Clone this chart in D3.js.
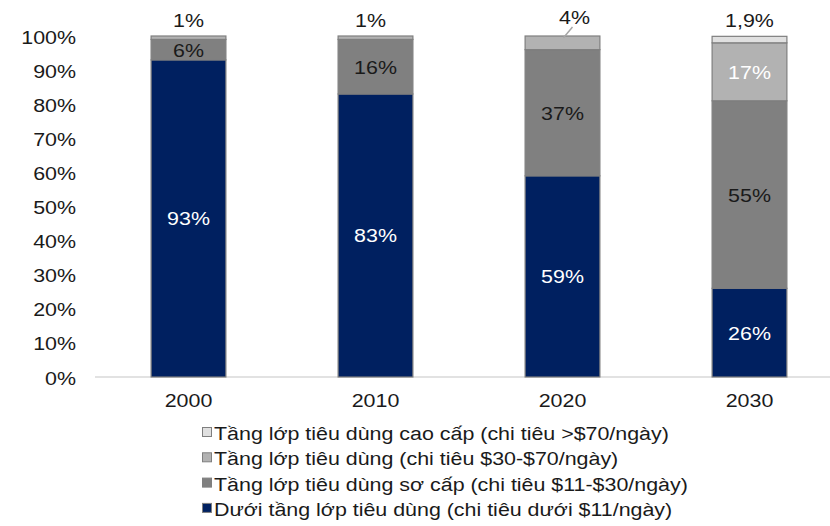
<!DOCTYPE html>
<html><head><meta charset="utf-8">
<script src="https://cdn.jsdelivr.net/npm/d3@7/dist/d3.min.js"></script>
<style>body{margin:0;background:#fff;} text{font-family:"Liberation Sans",Arial,sans-serif;}</style>
</head><body>
<svg id="c" width="830" height="526"></svg>
<script>
const years = ["2000","2010","2020","2030"];
const seriesNames = [
  "Dưới tầng lớp tiêu dùng (chi tiêu dưới $11/ngày)",
  "Tầng lớp tiêu dùng sơ cấp (chi tiêu $11-$30/ngày)",
  "Tầng lớp tiêu dùng (chi tiêu $30-$70/ngày)",
  "Tầng lớp tiêu dùng cao cấp (chi tiêu >$70/ngày)"
];
const below = [93, 83, 59, 26];
const primary = [6, 16, 37, 55];
const consumer = [1, 1, 4, 17];
const upper = [0, 0, 0, 1.9];
const valueLabels = [
  ["93%","83%","59%","26%"],
  ["6%","16%","37%","55%"],
  ["1%","1%","4%","17%"],
  ["","","","1,9%"]
];
const yTicks = [0,10,20,30,40,50,60,70,80,90,100];
const colors = ["#002060","#808080","#b2b2b2","#e0e0e0"];
const labelColors = ["#ffffff","#1a1a1a","#ffffff","#1a1a1a"];

const FS = 18, SX = 1.19;
const svg = d3.select("#c");
function txt(g, px, py, str, anchor, color) {
  return g.append("text").attr("transform", `translate(${px},${py}) scale(${SX},1)`)
    .attr("text-anchor", anchor).attr("font-size", FS).attr("fill", color || "#1a1a1a").text(str);
}

const x = d3.scaleBand().domain(years).range([95, 843]).paddingInner(0.6).paddingOuter(0.3);
const y = d3.scaleLinear().domain([0,100]).range([377, 36]);

const rows = years.map((yr,i)=>({year:yr, s0:below[i], s1:primary[i], s2:consumer[i], s3:upper[i]}));
const stack = d3.stack().keys(["s0","s1","s2","s3"])(rows);

// axis line
svg.append("line").attr("x1",95).attr("x2",830).attr("y1",y(0)).attr("y2",y(0))
  .attr("stroke","#d9d9d9").attr("stroke-width",1.5);

// y labels
const gy = svg.append("g");
yTicks.forEach(t => txt(gy, 76, y(t)+7.5, t+"%", "end"));

// x labels
const gx = svg.append("g");
years.forEach(yr => txt(gx, x(yr)+x.bandwidth()/2, 407, yr, "middle"));

// bars
stack.forEach((layer,k)=>{
  svg.append("g").selectAll("rect").data(layer.filter(d=>d[1]-d[0]>0)).join("rect")
    .attr("x",d=>x(d.data.year)).attr("width",x.bandwidth())
    .attr("y",d=>y(d[1])).attr("height",d=>y(d[0])-y(d[1]))
    .attr("fill",colors[k]).attr("stroke","#7f7f7f").attr("stroke-width",1.2);
});

// inside labels
const gl = svg.append("g");
stack.forEach((layer,k)=>{
  layer.forEach((d,i)=>{
    const v = d[1]-d[0];
    if (v < 5) return;
    txt(gl, x(d.data.year)+x.bandwidth()/2, y((d[0]+d[1])/2)+7, valueLabels[k][i], "middle", labelColors[k]);
  });
});

// outside top labels
const cx = i => x(years[i]) + x.bandwidth()/2;
txt(gl, cx(0), 27, valueLabels[2][0], "middle");
txt(gl, cx(1)-5, 27, valueLabels[2][1], "middle");
txt(gl, cx(2)+12, 24, valueLabels[2][2], "middle");
svg.append("line").attr("x1",cx(2)+1).attr("y1",y(99.5)).attr("x2",cx(2)+10).attr("y2",27)
  .attr("stroke","#a6a6a6").attr("stroke-width",1.5);
txt(gl, cx(3), 27, valueLabels[3][3], "middle");

// legend
const legendOrder = [3,2,1,0];
const lg = svg.append("g");
legendOrder.forEach((k,j)=>{
  const base = 440 + j*25.3;
  lg.append("rect").attr("x",202.5).attr("y",base-12.5).attr("width",9).attr("height",9)
    .attr("fill",colors[k]).attr("stroke","#7f7f7f").attr("stroke-width",1);
  txt(lg, 214, base, seriesNames[k], "start");
});
</script>
</body></html>
